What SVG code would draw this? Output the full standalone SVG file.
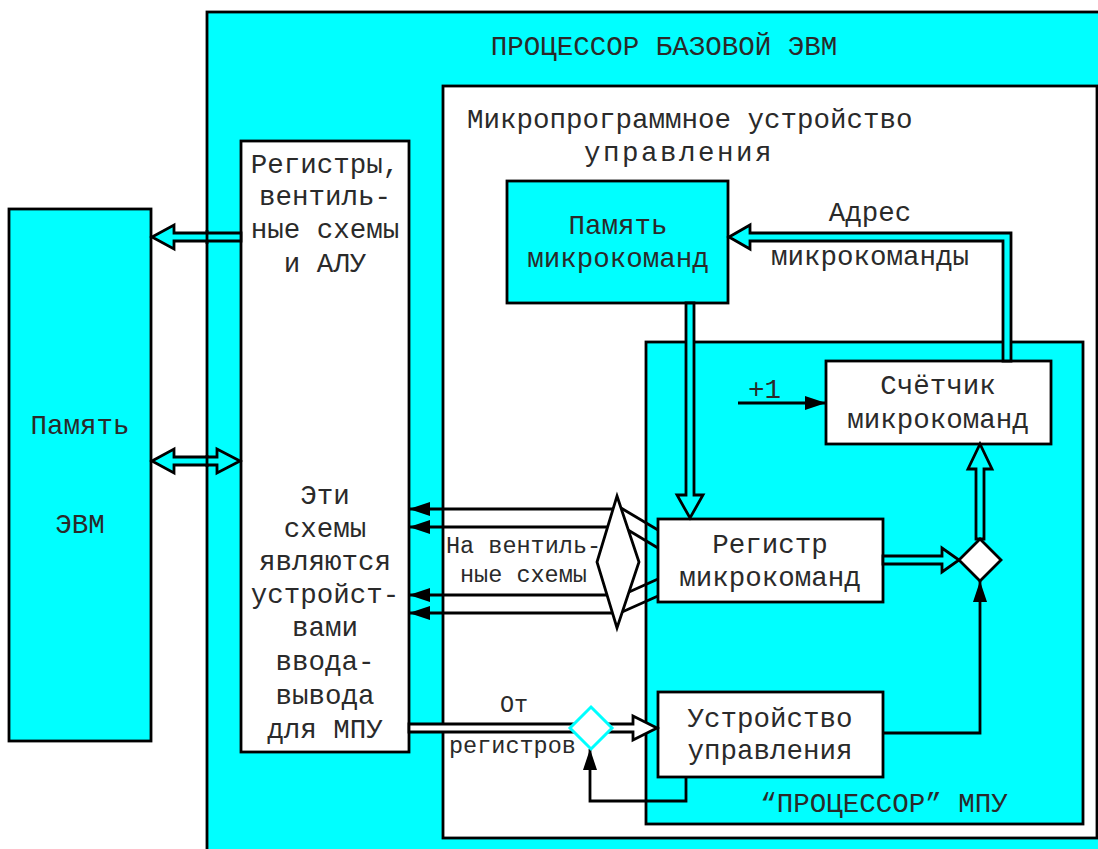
<svg xmlns="http://www.w3.org/2000/svg" width="1098" height="849" viewBox="0 0 1098 849">
<defs>
<style>
.box{stroke:#000;stroke-width:2.8}
.cy{fill:#00ffff}
.wh{fill:#fff}
.t{font-family:"Liberation Mono","DejaVu Sans Mono",monospace;font-size:27.5px;fill:#2a2a2a}
.s{font-size:23.5px}
.m{text-anchor:middle}
.ln{fill:none;stroke:#000;stroke-width:2.8}
.ha{stroke:#000;stroke-width:2.8;stroke-linejoin:miter}
</style>
<marker id="fa" viewBox="0 0 21 14" refX="21" refY="7" markerWidth="21" markerHeight="14" markerUnits="userSpaceOnUse" orient="auto">
<path d="M0,0 L21,7 L0,14 z" fill="#000"/>
</marker>
</defs>
<rect width="1098" height="849" fill="#fff"/>

<g id="processor">
<rect class="box cy" x="207" y="12" width="1000" height="900"/>
<text class="t m" x="664" y="55">ПРОЦЕССОР БАЗОВОЙ ЭВМ</text>
</g>

<g id="memory-evm">
<rect class="box cy" x="9" y="209" width="142" height="532"/>
<text class="t m" x="80" y="434">Память</text>
<text class="t m" x="80" y="533">ЭВМ</text>
</g>

<g id="registers">
<rect class="box wh" x="241" y="141" width="168" height="611"/>
<text class="t m" x="325" y="173">Регистры,</text>
<text class="t m" x="325" y="205">вентиль-</text>
<text class="t m" x="325" y="238">ные схемы</text>
<text class="t m" x="325" y="272">и АЛУ</text>
<text class="t m" x="325" y="504">Эти</text>
<text class="t m" x="325" y="537">схемы</text>
<text class="t m" x="325" y="570">являются</text>
<text class="t m" x="325" y="603">устройст-</text>
<text class="t m" x="325" y="636">вами</text>
<text class="t m" x="325" y="670">ввода-</text>
<text class="t m" x="325" y="704">вывода</text>
<text class="t m" x="325" y="738">для МПУ</text>
</g>

<g id="mpu">
<rect class="box wh" x="443" y="86" width="654" height="752"/>
<text class="t" x="467" y="128">Микропрограммное устройство</text>
<text class="t" x="584" y="161" letter-spacing="2.5">управления</text>
</g>

<g id="microcode-memory">
<rect class="box cy" x="507" y="181" width="221" height="122"/>
<text class="t m" x="618" y="234">Память</text>
<text class="t m" x="618" y="267">микрокоманд</text>
</g>

<g id="mpu-processor">
<rect class="box cy" x="646" y="342" width="437" height="482"/>
<text class="t m" x="884" y="812">“ПРОЦЕССОР” МПУ</text>
</g>

<g id="counter">
<rect class="box wh" x="826" y="361" width="225" height="83"/>
<text class="t m" x="938" y="394">Счётчик</text>
<text class="t m" x="938" y="428">микрокоманд</text>
</g>

<g id="microcode-register">
<rect class="box wh" x="658" y="519" width="225" height="83"/>
<text class="t m" x="770" y="553">Регистр</text>
<text class="t m" x="770" y="586">микрокоманд</text>
</g>

<g id="control-unit">
<rect class="box wh" x="658" y="692" width="225" height="85"/>
<text class="t m" x="770" y="727">Устройство</text>
<text class="t m" x="770" y="759">управления</text>
</g>

<g id="connectors">
<polygon class="ha cy" points="241,233 174,233 174,225 152,237 174,249 174,241 241,241"/>
<polygon class="ha cy" points="152,461 174,449 174,457 217,457 217,449 240,461 217,473 217,465 174,465 174,473"/>
<line x1="207" y1="230" x2="207" y2="244" stroke="#000" stroke-width="2.8"/>
<line x1="207" y1="455" x2="207" y2="467" stroke="#000" stroke-width="2.8"/>
<polygon class="ha cy" points="1011,361 1011,233 750,233 750,225 729,237 750,249 750,241 1003,241 1003,361"/>
<text class="t m" x="870" y="221">Адрес</text>
<text class="t m" x="870" y="265">микрокоманды</text>
<polygon class="ha cy" points="686,303 686,495 677,495 690,518 703,495 694,495 694,303"/>
<polygon class="ha cy" points="883,556 942,556 942,548 959,560 942,572 942,564 883,564"/>
<polygon class="ha cy" points="976,539 976,469 968,469 980,444 992,469 984,469 984,539"/>
<line class="ln" x1="738" y1="403" x2="826" y2="403" marker-end="url(#fa)"/>
<text class="t" x="748" y="398">+1</text>
<polyline class="ln" points="883,733 980,733 980,581" marker-end="url(#fa)"/>
<polyline class="ln" points="686,777 686,801 590,801 590,749" marker-end="url(#fa)"/>
<polygon class="ha wh" points="409,724 633,724 633,716 657,728 633,740 633,732 409,732"/>
<text class="t s" x="500" y="712">От</text>
<text class="t s" x="449" y="753">регистров</text>
<line class="ln" x1="613" y1="509" x2="409" y2="509" marker-end="url(#fa)"/>
<line class="ln" x1="608" y1="527" x2="409" y2="527" marker-end="url(#fa)"/>
<line class="ln" x1="607" y1="595" x2="409" y2="595" marker-end="url(#fa)"/>
<line class="ln" x1="612" y1="613" x2="409" y2="613" marker-end="url(#fa)"/>
<line class="ln" x1="621" y1="508" x2="658" y2="530"/>
<line class="ln" x1="628" y1="530" x2="658" y2="548"/>
<line class="ln" x1="629" y1="592" x2="658" y2="579"/>
<line class="ln" x1="622" y1="612" x2="658" y2="596"/>
<text class="t s" x="446" y="553">На вентиль-</text>
<text class="t s" x="460" y="582">ные схемы</text>
</g>

<g id="gate-diamond">
<polygon class="ha wh" points="617,496 639,562 617,628 597,562"/>
</g>
<g id="junction-counter">
<polygon class="ha wh" points="980,539 1001,560 980,581 959,560"/>
</g>
<g id="junction-input">
<polygon points="591,707 612,728 591,749 570,728" fill="#fff" stroke="#00ffff" stroke-width="3"/>
</g>
</svg>
